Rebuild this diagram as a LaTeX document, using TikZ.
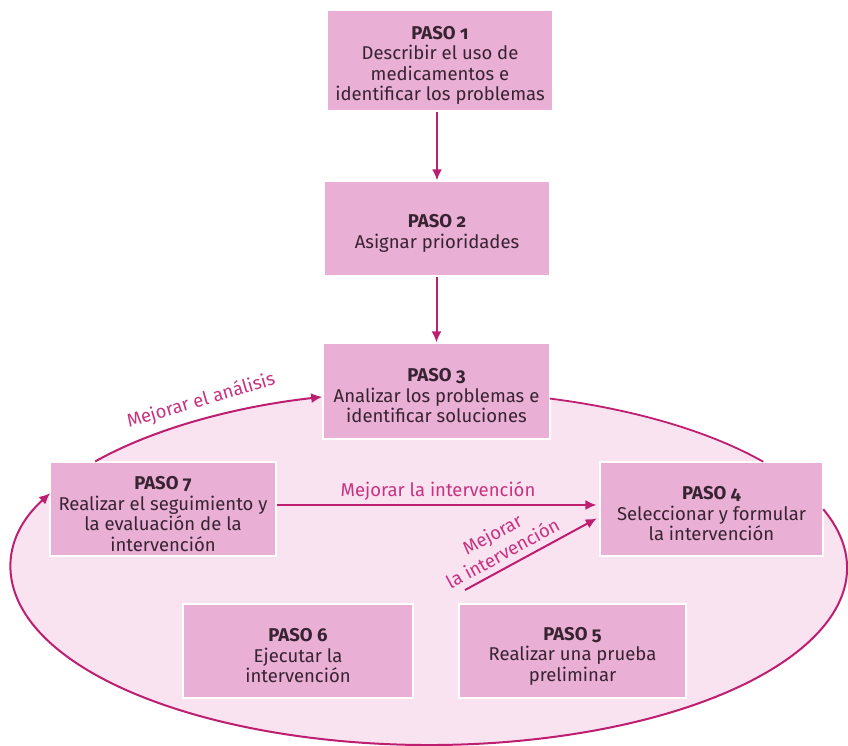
\documentclass[tikz,border=0pt]{standalone}
\usepackage{fontspec}
\setmainfont{Fira Sans}[Numbers=OldStyle]
\usetikzlibrary{arrows.meta,calc}
\definecolor{boxfill}{RGB}{233,175,212}
\definecolor{ellfill}{RGB}{250,227,241}
\definecolor{linec}{RGB}{190,30,112}
\definecolor{labc}{RGB}{200,50,128}
\definecolor{textc}{RGB}{55,35,50}
\newcommand{\topstrut}{\rule{0pt}{23pt}}
\begin{document}
\begin{tikzpicture}[x=1pt,y=1pt,
  stepbox/.style={fill=boxfill, draw=white, line width=1.2pt, inner sep=0pt,
    align=center, text=textc, font=\fontsize{18.5}{20.5}\selectfont},
  conn/.style={draw=linec, line width=2pt, -{Latex[length=11pt,width=10pt]}},
  ring/.style={draw=linec, line width=1.8pt},
  lab/.style={text=labc, font=\fontsize{18.5}{20.5}\selectfont, inner sep=1pt}]
\useasboundingbox (0,0) rectangle (848,746);
\coordinate (c) at (429,178);
% light pink cycle area
\fill[ellfill] (c) ellipse [x radius=418, y radius=177];
% step boxes
\node[stepbox, minimum width=226pt, minimum height=101pt] (p1) at (440,685.5)
  {\topstrut\textbf{PASO 1}\\Describir el uso de\\medicamentos e\\identificar los problemas};
\node[stepbox, minimum width=226pt, minimum height=95pt] (p2) at (437,517.5)
  {\topstrut\textbf{PASO 2}\\Asignar prioridades};
\node[stepbox, minimum width=227pt, minimum height=96pt] (p3) at (436.5,355)
  {\topstrut\textbf{PASO 3}\\Analizar los problemas e\\identificar soluciones};
\node[stepbox, minimum width=226pt, minimum height=94pt] (p7) at (163,237)
  {\topstrut\textbf{PASO 7}\\Realizar el seguimiento y\\la evaluación de la\\intervención};
\node[stepbox, minimum width=223pt, minimum height=94pt] (p4) at (711.5,237)
  {\topstrut\textbf{PASO 4}\\Seleccionar y formular\\la intervención};
\node[stepbox, minimum width=230pt, minimum height=94pt] (p6) at (298,95)
  {\topstrut\textbf{PASO 6}\\Ejecutar la\\intervención};
\node[stepbox, minimum width=227pt, minimum height=94pt] (p5) at (572.5,95)
  {\topstrut\textbf{PASO 5}\\Realizar una prueba\\preliminar};
% vertical arrows
\draw[conn] (p1.south -| p2.north) -- (p2.north);
\draw[conn] (p2.south -| p3.north) -- (p3.north);
% ring segments
\draw[conn] ($(c)+(143:418 and 177)$) arc[start angle=143, end angle=104.8, x radius=418, y radius=177];
\draw[ring] ($(c)+(73.2:418 and 177)$) arc[start angle=73.2, end angle=36.9, x radius=418, y radius=177];
\draw[conn] ($(c)+(19.4:418 and 177)$) arc[start angle=19.4, end angle=-205, x radius=418, y radius=177];
\node[lab, rotate=16.5] (l1) at (201,345) {Mejorar el análisis};
% improvement arrows
\draw[conn, shorten >=3pt] ([yshift=4pt]p7.east) -- node[lab, above=3pt] (l2) {Mejorar la intervención} ([yshift=4pt]p4.west);
\coordinate (d0) at (465,156);
\draw[conn, shorten >=3pt] (d0) -- node[lab, sloped, above=5pt, pos=0.33, align=center, font=\fontsize{18.5}{22}\selectfont] (l3) {Mejorar\\la intervención} ([yshift=-8pt]p4.west);
\end{tikzpicture}
\end{document}
